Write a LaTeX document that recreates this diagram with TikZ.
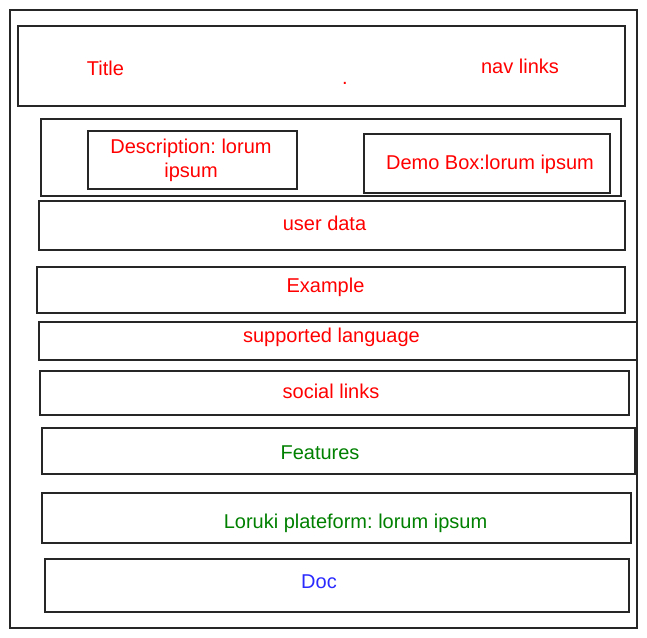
\documentclass[tikz,border=0pt]{standalone}
\usepackage{fontspec}
\setmainfont{Liberation Sans}
\frenchspacing
\definecolor{tred}{HTML}{FF0000}
\definecolor{tgreen}{HTML}{008000}
\definecolor{tblue}{HTML}{2A2AFF}
\begin{document}
\begin{tikzpicture}[x=1pt,y=-1pt,
  box/.style={draw=black!85, line width=1.2pt, inner sep=0pt},
  lbl/.style={anchor=base, inner sep=0pt, font=\fontsize{20}{24}\selectfont},
  redt/.style={lbl, text=tred},
  greent/.style={lbl, text=tgreen},
  bluet/.style={lbl, text=tblue}]
\useasboundingbox (0,0) rectangle (647,637);
\node[box, line width=1.6pt, minimum width=627pt, minimum height=618pt] (page) at (323.5,319) {};
\node[box, minimum width=607pt, minimum height=80pt] (header) at (321.5,66) {};
\node[box, minimum width=580pt, minimum height=77pt] (hero) at (331,157.5) {};
\node[box, minimum width=209pt, minimum height=58pt] (desc) at (192.5,160) {};
\node[box, minimum width=246pt, minimum height=59pt] (demo) at (487,163.5) {};
\node[box, minimum width=586pt, minimum height=49pt] (user) at (332,225.5) {};
\node[box, minimum width=588pt, minimum height=46pt] (example) at (331,290) {};
\node[box, minimum width=598pt, minimum height=38pt] (lang) at (338,341) {};
\node[box, minimum width=589pt, minimum height=44pt] (social) at (334.5,393) {};
\node[box, minimum width=593pt, minimum height=46pt] (features) at (338.5,451) {};
\node[box, minimum width=589pt, minimum height=50pt] (loruki) at (336.5,518) {};
\node[box, minimum width=584pt, minimum height=53pt] (doc) at (337,585.5) {};
% texts
\node[redt] (ttitle) at (105.5,75.5) {Title};
\node[redt] (tnav) at (520,73) {nav links};
\node[redt] (tdot) at (345,84) {.};
\node[redt, anchor=center, align=center] (tdesc) at (191,160.5) {Description: lorum\\ipsum};
\node[redt] (tdemo) at (490,169.5) {Demo Box:lorum ipsum};
\node[redt] (tuser) at (324.5,230) {user data};
\node[redt] (texample) at (325.5,292.5) {Example};
\node[redt] (tlang) at (331.5,342.5) {supported language};
\node[redt] (tsocial) at (331,398.5) {social links};
\node[greent] (tfeat) at (320,459) {Features};
\node[greent] (tloruki) at (355.5,528) {Loruki plateform: lorum ipsum};
\node[bluet] (tdoc) at (319,588.5) {Doc};
\end{tikzpicture}
\end{document}
